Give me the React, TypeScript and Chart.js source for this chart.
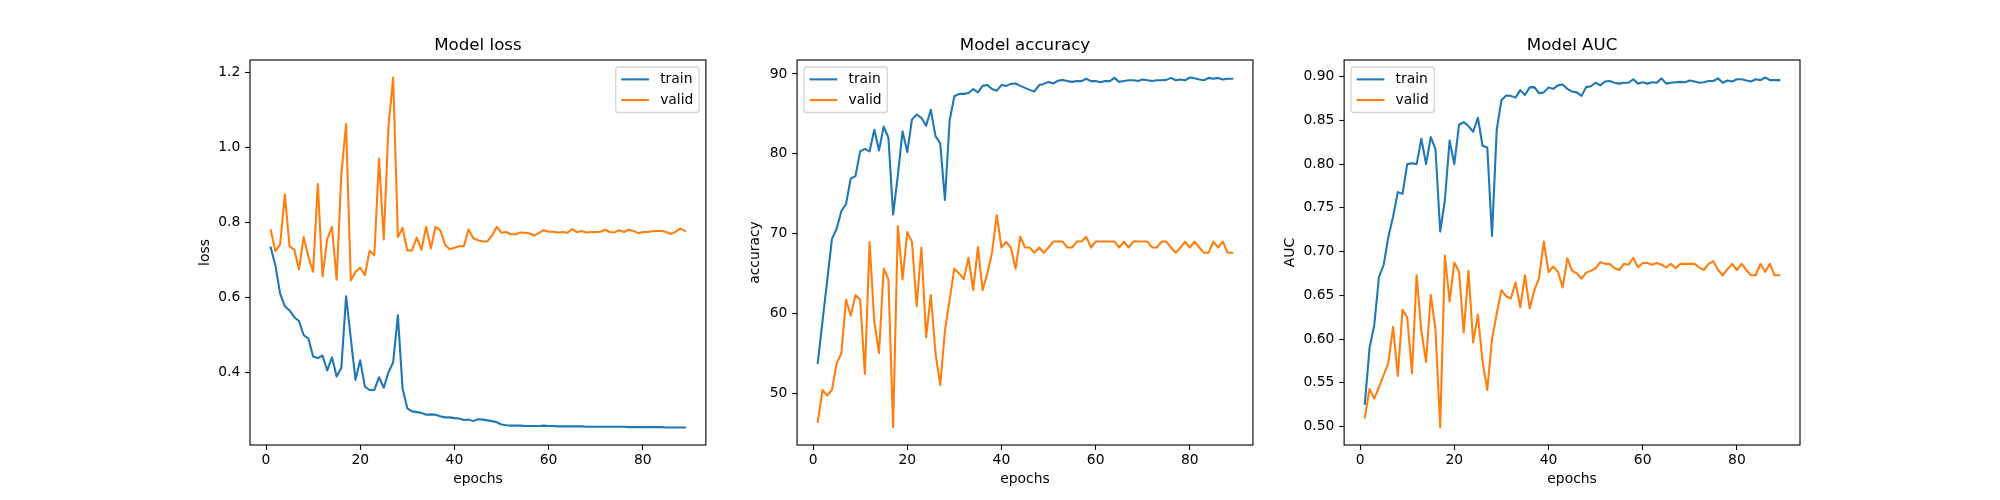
import React, { useEffect, useRef } from 'react';
import { Chart, registerables } from 'chart.js';

Chart.register(...registerables);

// ---------------- data ----------------
const epochs = [
  1, 2, 3, 4, 5, 6, 7, 8, 9, 10, 11, 12, 13, 14, 15, 16, 17, 18, 19, 20,
  21, 22, 23, 24, 25, 26, 27, 28, 29, 30, 31, 32, 33, 34, 35, 36, 37, 38, 39, 40,
  41, 42, 43, 44, 45, 46, 47, 48, 49, 50, 51, 52, 53, 54, 55, 56, 57, 58, 59, 60,
  61, 62, 63, 64, 65, 66, 67, 68, 69, 70, 71, 72, 73, 74, 75, 76, 77, 78, 79, 80,
  81, 82, 83, 84, 85, 86, 87, 88, 89,
];

const trainLoss = [
  0.734, 0.686, 0.611, 0.577, 0.566, 0.548, 0.538, 0.500, 0.491, 0.443,
  0.439, 0.446, 0.406, 0.441, 0.390, 0.413, 0.604, 0.492, 0.381, 0.433,
  0.363, 0.354, 0.354, 0.388, 0.360, 0.401, 0.428, 0.553, 0.357, 0.305,
  0.297, 0.295, 0.293, 0.288, 0.289, 0.288, 0.284, 0.281, 0.281, 0.279,
  0.278, 0.274, 0.275, 0.271, 0.276, 0.275, 0.273, 0.271, 0.268, 0.262,
  0.260, 0.259, 0.259, 0.259, 0.258, 0.258, 0.258, 0.258, 0.259, 0.258,
  0.258, 0.257, 0.257, 0.257, 0.257, 0.257, 0.257, 0.256, 0.256, 0.256,
  0.256, 0.256, 0.256, 0.256, 0.256, 0.256, 0.255, 0.255, 0.255, 0.255,
  0.255, 0.255, 0.255, 0.255, 0.254, 0.254, 0.254, 0.254, 0.254,
];

const validLoss = [
  0.780, 0.724, 0.742, 0.875, 0.737, 0.728, 0.675, 0.762, 0.709, 0.669,
  0.903, 0.657, 0.756, 0.789, 0.648, 0.931, 1.063, 0.646, 0.669, 0.680,
  0.660, 0.725, 0.713, 0.971, 0.755, 1.056, 1.187, 0.762, 0.786, 0.726,
  0.726, 0.760, 0.728, 0.789, 0.731, 0.789, 0.780, 0.742, 0.729, 0.733,
  0.737, 0.737, 0.782, 0.759, 0.753, 0.750, 0.750, 0.766, 0.789, 0.773,
  0.775, 0.769, 0.769, 0.774, 0.773, 0.771, 0.766, 0.773, 0.780, 0.776,
  0.776, 0.774, 0.775, 0.773, 0.783, 0.775, 0.778, 0.774, 0.775, 0.775,
  0.776, 0.781, 0.775, 0.774, 0.780, 0.775, 0.781, 0.778, 0.772, 0.775,
  0.775, 0.777, 0.778, 0.778, 0.775, 0.770, 0.776, 0.784, 0.778,
];

const trainAcc = [
  53.8, 59.0, 64.1, 69.3, 70.6, 72.8, 73.7, 76.9, 77.2, 80.3,
  80.6, 80.3, 83.0, 80.4, 83.4, 82.0, 72.4, 77.3, 82.8, 80.2,
  84.3, 84.9, 84.5, 83.5, 85.5, 82.2, 81.3, 74.2, 84.2, 87.2,
  87.5, 87.5, 87.6, 88.1, 87.7, 88.5, 88.6, 88.1, 87.9, 88.6,
  88.5, 88.75, 88.8, 88.5, 88.25, 88.0, 87.8, 88.6, 88.75, 89.0,
  88.8, 89.15, 89.25, 89.1, 89.0, 89.1, 89.1, 89.4, 89.1, 89.1,
  88.95, 89.1, 89.1, 89.5, 89.0, 89.1, 89.2, 89.2, 89.1, 89.3,
  89.2, 89.1, 89.2, 89.2, 89.25, 89.5, 89.2, 89.3, 89.2, 89.55,
  89.45, 89.3, 89.2, 89.5, 89.4, 89.5, 89.3, 89.4, 89.4,
];

const validAcc = [
  46.4, 50.4, 49.7, 50.4, 53.7, 55.0, 61.7, 59.7, 62.3, 61.7,
  52.4, 68.95, 58.95, 55.0, 65.6, 64.25, 45.7, 70.95, 64.25, 70.2,
  68.95, 60.9, 68.25, 57.0, 62.3, 55.0, 51.0, 57.8, 61.75, 65.6,
  65.0, 64.3, 66.95, 62.9, 68.3, 62.9, 65.0, 67.6, 72.3, 68.25,
  68.95, 68.25, 65.6, 69.6, 68.25, 68.25, 67.6, 68.25, 67.6, 68.25,
  69.0, 69.0, 69.0, 68.25, 68.25, 69.0, 69.0, 69.6, 68.25, 69.0,
  69.0, 69.0, 69.0, 69.0, 68.25, 69.0, 68.25, 69.0, 69.0, 69.0,
  69.0, 68.25, 68.25, 69.0, 69.0, 68.25, 67.6, 68.25, 69.0, 68.25,
  69.0, 68.25, 67.6, 67.6, 69.0, 68.25, 69.0, 67.6, 67.6,
];

const trainAuc = [
  0.526, 0.590, 0.616, 0.671, 0.685, 0.717, 0.740, 0.768, 0.766, 0.800,
  0.801, 0.800, 0.829, 0.800, 0.831, 0.817, 0.723, 0.759, 0.827, 0.800,
  0.845, 0.848, 0.8435, 0.837, 0.853, 0.821, 0.819, 0.718, 0.839, 0.873,
  0.8785, 0.878, 0.876, 0.8846, 0.879, 0.8877, 0.888, 0.881, 0.882, 0.8877,
  0.886, 0.890, 0.891, 0.886, 0.883, 0.882, 0.878, 0.888, 0.889, 0.893,
  0.890, 0.8945, 0.895, 0.893, 0.892, 0.893, 0.893, 0.897, 0.892, 0.8935,
  0.892, 0.8935, 0.893, 0.898, 0.892, 0.893, 0.8935, 0.894, 0.8935, 0.8955,
  0.8945, 0.893, 0.8935, 0.895, 0.895, 0.898, 0.893, 0.8955, 0.8945, 0.897,
  0.897, 0.8955, 0.8945, 0.897, 0.896, 0.899, 0.896, 0.896, 0.896,
];

const validAuc = [
  0.5105, 0.543, 0.532, 0.545, 0.559, 0.573, 0.614, 0.558, 0.6335, 0.625,
  0.561, 0.673, 0.609, 0.574, 0.6506, 0.611, 0.499, 0.6954, 0.643, 0.6875,
  0.677, 0.6076, 0.678, 0.596, 0.628, 0.574, 0.542, 0.600, 0.629, 0.656,
  0.649, 0.6465, 0.6646, 0.6365, 0.673, 0.635, 0.656, 0.670, 0.7114, 0.6765,
  0.683, 0.677, 0.659, 0.6925, 0.678, 0.6753, 0.669, 0.676, 0.678, 0.681,
  0.688, 0.686, 0.686, 0.681, 0.679, 0.686, 0.685, 0.693, 0.682, 0.687,
  0.687, 0.685, 0.687, 0.685, 0.682, 0.686, 0.681, 0.686, 0.686, 0.686,
  0.686, 0.682, 0.679, 0.686, 0.689, 0.679, 0.673, 0.680, 0.686, 0.679,
  0.686, 0.679, 0.673, 0.673, 0.686, 0.677, 0.686, 0.673, 0.673,
];

const seriesLabels = ['train', 'valid'];
const panelTitles = ['Model loss', 'Model accuracy', 'Model AUC'];
const yAxisTitles = ['loss', 'accuracy', 'AUC'];
const xAxisTitle = 'epochs';

const xTicks = [0, 20, 40, 60, 80];
const xTickLabels = ['0', '20', '40', '60', '80'];
const lossTicks = [0.4, 0.6, 0.8, 1.0, 1.2];
const lossTickLabels = ['0.4', '0.6', '0.8', '1.0', '1.2'];
const accTicks = [50, 60, 70, 80, 90];
const accTickLabels = ['50', '60', '70', '80', '90'];
const aucTicks = [0.5, 0.55, 0.6, 0.65, 0.7, 0.75, 0.8, 0.85, 0.9];
const aucTickLabels = ['0.50', '0.55', '0.60', '0.65', '0.70', '0.75', '0.80', '0.85', '0.90'];

// ---------------- style / layout ----------------
const FONT = "'DejaVu Sans', 'Liberation Sans', sans-serif";
const PT = 100 / 72; // px per point at dpi 100
const BLUE = '#1f77b4';
const ORANGE = '#ff7f0e';

const FIG_W = 2000;
const FIG_H = 500;
const AX_LEFT0 = 0.125 * FIG_W;
const AX_W = ((0.9 - 0.125) * FIG_W) / (3 + 2 * 0.2);
const AX_TOP = (1 - 0.88) * FIG_H;
const AX_BOTTOM = (1 - 0.11) * FIG_H;
const LEFT_ROOM = 90;
const RIGHT_ROOM = 12;

const TICK_FS = 10 * PT;
const TITLE_FS = 12 * PT;

const panels = [
  { train: trainLoss, valid: validLoss, ticks: lossTicks, tickLabels: lossTickLabels, legendLoc: 'right', yTitleDist: 44.5 },
  { train: trainAcc, valid: validAcc, ticks: accTicks, tickLabels: accTickLabels, legendLoc: 'left', yTitleDist: 41.3 },
  { train: trainAuc, valid: validAuc, ticks: aucTicks, tickLabels: aucTickLabels, legendLoc: 'left', yTitleDist: 54.0 },
];

function padLimits(values: number[]) {
  const lo = Math.min(...values);
  const hi = Math.max(...values);
  const m = (hi - lo) * 0.05;
  return [lo - m, hi + m];
}

const framePlugin = {
  id: 'mplFrame',
  afterDatasetsDraw(chart: any, _args: any, opts: any) {
    const { ctx, chartArea: a } = chart;
    ctx.save();
    // spines
    ctx.strokeStyle = '#000';
    ctx.lineWidth = 0.8 * PT;
    ctx.strokeRect(a.left, a.top, a.right - a.left, a.bottom - a.top);

    // legend (matplotlib style, inside axes)
    const fs = TICK_FS;
    ctx.font = `${fs}px ${FONT}`;
    const items = chart.data.datasets.map((d: any) => ({ label: d.label, color: d.borderColor }));
    const pad = 0.4 * fs;
    const handle = 2.0 * fs;
    const htp = 0.8 * fs;
    const lsp = 0.5 * fs;
    const axPad = 0.5 * fs;
    const rowH = 0.99 * fs;
    const tw = Math.max(...items.map((it: any) => ctx.measureText(it.label).width));
    const w = pad * 2 + handle + htp + tw;
    const h = pad * 2 + items.length * rowH + (items.length - 1) * lsp;
    const x = opts.loc === 'right' ? a.right - axPad - w : a.left + axPad;
    const y = a.top + axPad;
    const r = 0.2 * fs;
    ctx.beginPath();
    ctx.moveTo(x + r, y);
    ctx.lineTo(x + w - r, y);
    ctx.quadraticCurveTo(x + w, y, x + w, y + r);
    ctx.lineTo(x + w, y + h - r);
    ctx.quadraticCurveTo(x + w, y + h, x + w - r, y + h);
    ctx.lineTo(x + r, y + h);
    ctx.quadraticCurveTo(x, y + h, x, y + h - r);
    ctx.lineTo(x, y + r);
    ctx.quadraticCurveTo(x, y, x + r, y);
    ctx.closePath();
    ctx.fillStyle = 'rgba(255,255,255,0.8)';
    ctx.fill();
    ctx.strokeStyle = 'rgba(204,204,204,0.8)';
    ctx.lineWidth = 1.0 * PT;
    ctx.stroke();

    items.forEach((it: any, k: number) => {
      const rowTop = y + pad + k * (rowH + lsp);
      const cy = rowTop + rowH / 2;
      ctx.beginPath();
      ctx.strokeStyle = it.color;
      ctx.lineWidth = 1.5 * PT;
      ctx.lineCap = 'butt';
      ctx.moveTo(x + pad, cy);
      ctx.lineTo(x + pad + handle, cy);
      ctx.stroke();
      ctx.fillStyle = '#000';
      ctx.textAlign = 'left';
      ctx.textBaseline = 'alphabetic';
      ctx.fillText(it.label, x + pad + handle + htp, rowTop + 0.77 * fs);
    });
    ctx.restore();
  },
};

function Panel({ index }: { index: number }) {
  const ref = useRef<HTMLCanvasElement | null>(null);
  const p = panels[index];
  const axLeft = AX_LEFT0 + index * AX_W * 1.2;
  const canvasLeft = Math.floor(axLeft - LEFT_ROOM);
  const yAxisWidth = axLeft - canvasLeft;
  const canvasW = Math.ceil(yAxisWidth + AX_W + RIGHT_ROOM);
  const rightPad = canvasW - yAxisWidth - AX_W;

  useEffect(() => {
    if (!ref.current) return;
    const [xMin, xMax] = padLimits(epochs);
    const [yMin, yMax] = padLimits([...p.train, ...p.valid]);
    const tickFont = { family: FONT, size: TICK_FS, weight: 'normal' as const, lineHeight: 1.2 };
    const titleLH = TITLE_FS * 1.2;
    const titleMid = AX_TOP - 6 * PT - 0.346 * TITLE_FS;
    const titlePadTop = titleMid - titleLH / 2;
    const yTitleMid = axLeft - p.yTitleDist - canvasLeft;
    const chart = new Chart(ref.current, {
      type: 'line',
      data: {
        labels: epochs,
        datasets: [
          { label: seriesLabels[0], data: p.train, borderColor: BLUE, backgroundColor: BLUE },
          { label: seriesLabels[1], data: p.valid, borderColor: ORANGE, backgroundColor: ORANGE },
        ],
      },
      options: {
        responsive: false,
        animation: false,
        events: [],
        layout: { autoPadding: false, padding: { left: 0, right: rightPad, top: 0, bottom: 0 } },
        elements: {
          point: { radius: 0, hoverRadius: 0 },
          line: { tension: 0, borderWidth: 1.5 * PT, borderJoinStyle: 'round', borderCapStyle: 'square', fill: false },
        },
        plugins: {
          legend: { display: false },
          tooltip: { enabled: false },
          title: {
            display: true,
            fullSize: false,
            text: panelTitles[index],
            color: '#000',
            font: { family: FONT, size: TITLE_FS, weight: 'normal', lineHeight: 1.2 },
            padding: { top: titlePadTop, bottom: AX_TOP - titlePadTop - titleLH },
          },
          mplFrame: { loc: p.legendLoc },
        } as any,
        scales: {
          x: {
            type: 'linear',
            min: xMin,
            max: xMax,
            bounds: 'data',
            afterBuildTicks: (s: any) => {
              s.ticks = xTicks.map((v) => ({ value: v }));
            },
            afterFit: (s: any) => {
              s.height = FIG_H - AX_BOTTOM;
            },
            ticks: {
              autoSkip: false,
              maxRotation: 0,
              minRotation: 0,
              padding: 2.3,
              color: '#000',
              font: tickFont,
              callback: (_v: any, i: number) => xTickLabels[i],
            },
            grid: {
              display: true,
              drawOnChartArea: false,
              drawTicks: true,
              tickLength: 3.5 * PT,
              tickColor: '#000',
              tickWidth: 0.8 * PT,
            },
            border: { display: false },
            title: {
              display: true,
              text: xAxisTitle,
              color: '#000',
              font: tickFont,
              padding: { top: 0, bottom: 11.9 },
            },
          },
          y: {
            type: 'linear',
            min: yMin,
            max: yMax,
            bounds: 'data',
            afterBuildTicks: (s: any) => {
              s.ticks = p.ticks.map((v) => ({ value: v }));
            },
            afterFit: (s: any) => {
              s.width = yAxisWidth;
            },
            ticks: {
              autoSkip: false,
              padding: 3.5 * PT,
              color: '#000',
              font: tickFont,
              callback: (_v: any, i: number) => p.tickLabels[i],
            },
            grid: {
              display: true,
              drawOnChartArea: false,
              drawTicks: true,
              tickLength: 3.5 * PT,
              tickColor: '#000',
              tickWidth: 0.8 * PT,
            },
            border: { display: false },
            title: {
              display: true,
              text: yAxisTitles[index],
              color: '#000',
              font: tickFont,
              padding: { top: yTitleMid - (TICK_FS * 1.2) / 2, bottom: 0 },
            },
          },
        },
      } as any,
      plugins: [framePlugin],
    });
    return () => chart.destroy();
  }, [index]);

  return (
    <canvas
      ref={ref}
      width={canvasW}
      height={FIG_H}
      style={{ position: 'absolute', left: canvasLeft, top: 0, width: canvasW, height: FIG_H }}
    />
  );
}

export default function App() {
  return (
    <div
      style={{
        position: 'absolute',
        left: 0,
        top: 0,
        width: FIG_W,
        height: FIG_H,
        background: '#ffffff',
        overflow: 'hidden',
      }}
    >
      {panels.map((_, i) => (
        <Panel key={i} index={i} />
      ))}
    </div>
  );
}
